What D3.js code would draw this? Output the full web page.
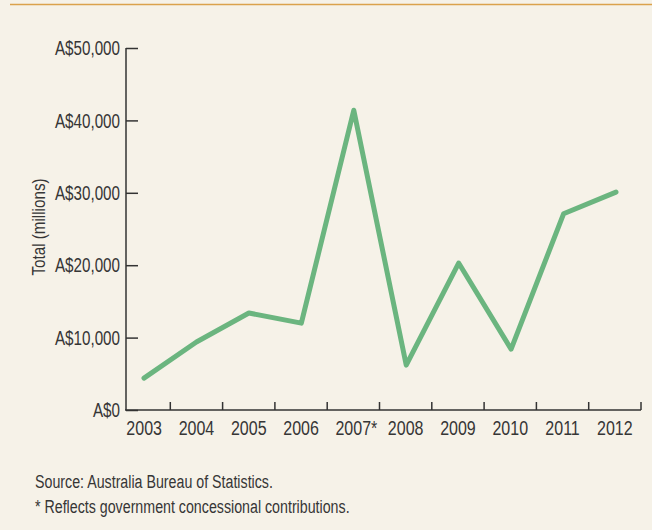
<!DOCTYPE html>
<html>
<head>
<meta charset="utf-8">
<script src="https://cdn.jsdelivr.net/npm/d3@7"></script>
<style>
  body { margin: 0; background: #f6f2e8; }
  svg text { font-family: "Liberation Sans Narrow", "Arial Narrow", "Liberation Sans", sans-serif; fill: #363636; }
</style>
</head>
<body>
<div id="chart"></div>
<script>
// Data
const years = ["2003", "2004", "2005", "2006", "2007", "2008", "2009", "2010", "2011", "2012"];
const yearLabels = ["2003", "2004", "2005", "2006", "2007*", "2008", "2009", "2010", "2011", "2012"];
const totals = [4400, 9400, 13400, 12000, 41400, 6200, 20300, 8400, 27100, 30100];
const yTicks = [0, 10000, 20000, 30000, 40000, 50000];
const notes = ["Source: Australia Bureau of Statistics.", "* Reflects government concessional contributions."];

const W = 652, H = 530;

// squeeze text horizontally, no narrow font is installed
function condense(sel, k) {
    sel.each(function() {
        const len = this.getComputedTextLength();
        d3.select(this).attr("textLength", len * k).attr("lengthAdjust", "spacingAndGlyphs");
    });
}

const svg = d3.select("#chart")
    .append("svg")
    .attr("width", W)
    .attr("height", H);

svg.append("rect").attr("width", W).attr("height", H).attr("fill", "#f6f2e8");

// Orange rule on top
svg.append("line")
    .attr("x1", 10).attr("x2", W)
    .attr("y1", 4.5).attr("y2", 4.5)
    .attr("stroke", "#dba24c")
    .attr("stroke-width", 1.5);

// Scales
const xBand = d3.scaleBand().domain(years).range([118, 641]);
const xPoint = d3.scalePoint().domain(years).range([144, 616]);
const y = d3.scaleLinear().domain([0, 50000]).range([410, 48]);

// Y axis
const yAxis = svg.append("g")
    .attr("transform", "translate(126,0)")
    .call(d3.axisRight(y).tickValues(yTicks).tickSize(12).tickFormat(""));
yAxis.select(".domain").attr("stroke", "#333").attr("stroke-width", 1.5).attr("d", "M0,48V410");
yAxis.selectAll(".tick line").attr("stroke", "#333").attr("stroke-width", 1.5);

svg.append("g").selectAll("text")
    .data(yTicks)
    .enter().append("text")
    .attr("x", 120)
    .attr("y", d => y(d))
    .attr("dy", "0.36em")
    .attr("text-anchor", "end")
    .style("font-size", "20px")
    .text(d => "A$" + d3.format(",")(d))
    .call(condense, 0.76);

// Y axis title
svg.append("text")
    .attr("transform", "translate(45,227) rotate(-90)")
    .attr("text-anchor", "middle")
    .style("font-size", "19px")
    .text("Total (millions)")
    .call(condense, 0.8);

// X axis
const xAxis = svg.append("g")
    .attr("transform", "translate(0,410)");
xAxis.append("line")
    .attr("x1", 125).attr("x2", 641)
    .attr("stroke", "#333").attr("stroke-width", 1.5);
xAxis.selectAll(".xtick")
    .data(years)
    .enter().append("line")
    .attr("class", "xtick")
    .attr("x1", d => xBand(d) + xBand.bandwidth())
    .attr("x2", d => xBand(d) + xBand.bandwidth())
    .attr("y1", 0).attr("y2", -8)
    .attr("stroke", "#333").attr("stroke-width", 1.5);
xAxis.selectAll(".xlabel")
    .data(years)
    .enter().append("text")
    .attr("class", "xlabel")
    .attr("x", (d, i) => xBand(d) + xBand.bandwidth() / 2 + (i === 4 ? 3 : 0))
    .attr("y", 25)
    .attr("text-anchor", "middle")
    .style("font-size", "20px")
    .text((d, i) => yearLabels[i])
    .call(condense, 0.8);

// Line
const line = d3.line()
    .x((d, i) => xPoint(years[i]))
    .y(d => y(d));

svg.append("path")
    .datum(totals)
    .attr("d", line)
    .attr("fill", "none")
    .attr("stroke", "#6bb57f")
    .attr("stroke-width", 5)
    .attr("stroke-linejoin", "round")
    .attr("stroke-linecap", "round");

// Notes
svg.append("g").selectAll("text")
    .data(notes)
    .enter().append("text")
    .attr("x", 35)
    .attr("y", (d, i) => 488 + i * 25)
    .style("font-size", "18px")
    .text(d => d)
    .call(condense, 0.79);
</script>
</body>
</html>
